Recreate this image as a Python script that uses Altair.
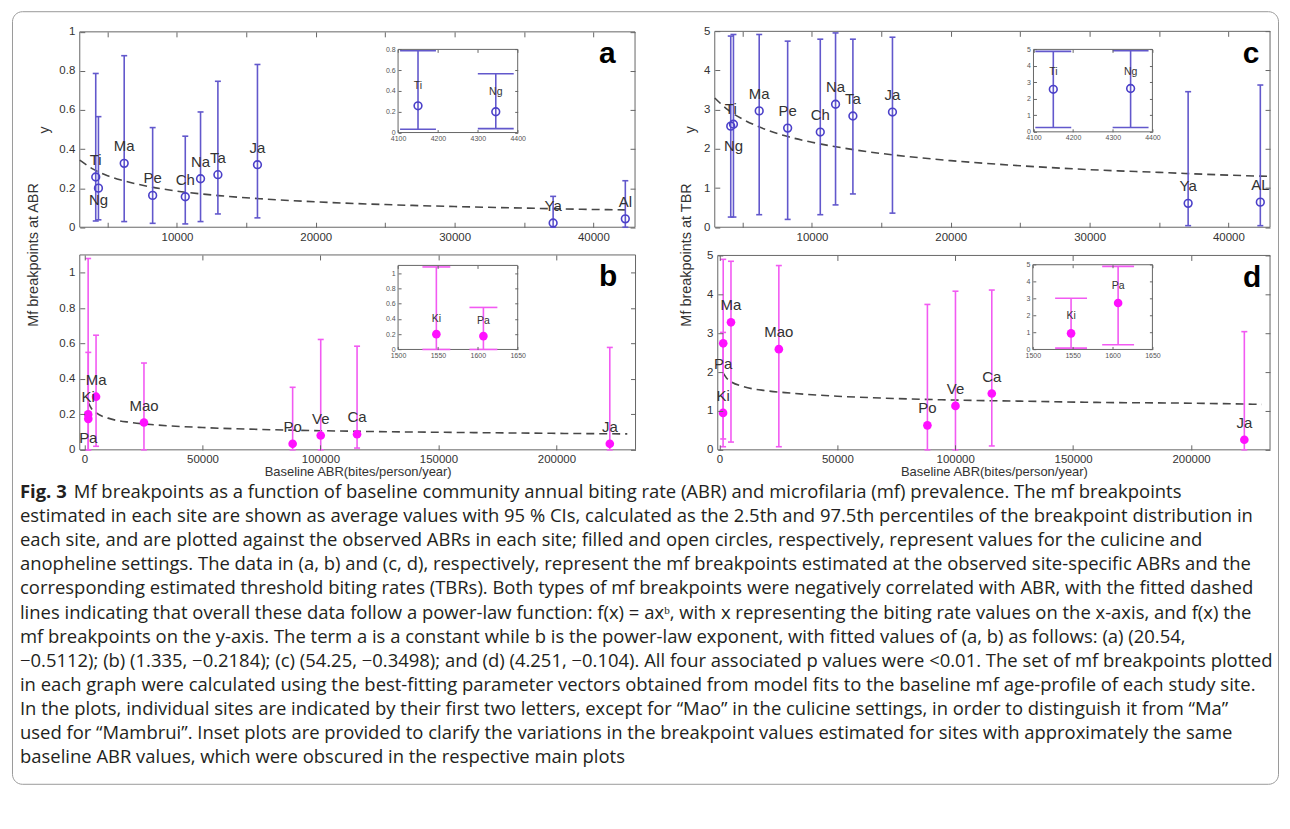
import altair as alt
import pandas as pd

# ---------------- data ----------------
# anopheline sites (open circles): panel a = mf breakpoint at ABR, panel c = at TBR
ANO_SITES = ["Ti", "Ng", "Ma", "Pe", "Ch", "Na", "Ta", "Ja", "Ya", "Al"]
C_SITES = ["Ti", "Ng", "Ma", "Pe", "Ch", "Na", "Ta", "Ja", "Ya", "AL"]
ANO_ABR = [4150, 4345, 6200, 8250, 10600, 11700, 12950, 15800, 37100, 42300]
A_MEAN = [0.257, 0.200, 0.327, 0.163, 0.156, 0.248, 0.269, 0.320, 0.022, 0.043]
A_LOW = [0.032, 0.038, 0.029, 0.020, 0.017, 0.029, 0.068, 0.048, 0.000, 0.000]
A_HIGH = [0.787, 0.566, 0.878, 0.510, 0.466, 0.590, 0.747, 0.833, 0.158, 0.238]
C_MEAN = [2.58, 2.63, 2.97, 2.53, 2.43, 3.14, 2.84, 2.94, 0.61, 0.64]
C_LOW = [0.26, 0.26, 0.32, 0.20, 0.32, 0.57, 0.85, 0.36, 0.04, 0.04]
C_HIGH = [4.88, 4.92, 4.92, 4.75, 4.80, 4.96, 4.80, 4.85, 3.46, 3.63]

# culicine sites (filled circles): panel b = at ABR, panel d = at TBR
CUL_SITES = ["Ki", "Pa", "Ma", "Mao", "Po", "Ve", "Ca", "Ja"]
CUL_ABR = [1548, 1607, 4900, 25200, 88200, 100100, 115500, 222600]
B_MEAN = [0.200, 0.175, 0.300, 0.154, 0.034, 0.081, 0.088, 0.034]
B_LOW = [0.0, 0.0, 0.02, 0.0, 0.0, 0.0, 0.01, 0.0]
B_HIGH = [1.08, 0.55, 0.647, 0.49, 0.353, 0.623, 0.585, 0.578]
D_MEAN = [0.95, 2.74, 3.28, 2.59, 0.63, 1.13, 1.45, 0.26]
D_LOW = [0.08, 0.28, 0.20, 0.08, 0.0, 0.0, 0.10, 0.0]
D_HIGH = [3.02, 4.90, 4.85, 4.74, 3.74, 4.08, 4.11, 3.04]

# fitted power-law curves (dashed)
FIT_A_X = [3000, 4000, 5000, 6000, 8000, 10000, 13000, 16000, 20000, 25000, 30000, 35000, 40000, 42300]
FIT_A_Y = [0.343, 0.296, 0.264, 0.241, 0.208, 0.185, 0.162, 0.146, 0.130, 0.116, 0.106, 0.098, 0.091, 0.089]
FIT_B_X = [1550, 3000, 5000, 10000, 20000, 30000, 50000, 75000, 100000, 130000, 160000, 200000, 230000]
FIT_B_Y = [0.268, 0.232, 0.208, 0.179, 0.154, 0.141, 0.126, 0.115, 0.108, 0.102, 0.098, 0.093, 0.090]
FIT_C_X = [3000, 4000, 5000, 6000, 8000, 10000, 13000, 16000, 20000, 25000, 30000, 35000, 40000, 42800]
FIT_C_Y = [3.30, 2.98, 2.76, 2.59, 2.34, 2.17, 1.98, 1.84, 1.70, 1.57, 1.47, 1.40, 1.33, 1.30]
FIT_D_X = [1550, 3000, 5000, 10000, 20000, 30000, 50000, 75000, 100000, 130000, 160000, 200000, 230000]
FIT_D_Y = [1.98, 1.85, 1.75, 1.63, 1.52, 1.46, 1.38, 1.32, 1.28, 1.25, 1.22, 1.20, 1.17]

# tick values
X_TICKS_ANO = [5000, 10000, 15000, 20000, 25000, 30000, 35000, 40000]
X_LABELS_ANO = [10000, 20000, 30000, 40000]
X_TICKS_CUL = [0, 50000, 100000, 150000, 200000]
Y_TICKS_AB = [0, 0.2, 0.4, 0.6, 0.8, 1]
Y_TICKS_CD = [0, 1, 2, 3, 4, 5]
INSET_X_ANO = [4100, 4200, 4300, 4400]
INSET_X_CUL = [1500, 1550, 1600, 1650]
INSET_Y_A = [0, 0.2, 0.4, 0.6, 0.8]
INSET_Y_B = [0, 0.2, 0.4, 0.6, 0.8, 1]

CAPTION_BOLD = "Fig. 3"
CAPTION_LINES = [
    "Mf breakpoints as a function of baseline community annual biting rate (ABR) and microfilaria (mf) prevalence. The mf breakpoints",
    "estimated in each site are shown as average values with 95 % CIs, calculated as the 2.5th and 97.5th percentiles of the breakpoint distribution in",
    "each site, and are plotted against the observed ABRs in each site; filled and open circles, respectively, represent values for the culicine and",
    "anopheline settings. The data in (a, b) and (c, d), respectively, represent the mf breakpoints estimated at the observed site-specific ABRs and the",
    "corresponding estimated threshold biting rates (TBRs). Both types of mf breakpoints were negatively correlated with ABR, with the fitted dashed",
    "lines indicating that overall these data follow a power-law function: f(x) = axᵇ, with x representing the biting rate values on the x-axis, and f(x) the",
    "mf breakpoints on the y-axis. The term a is a constant while b is the power-law exponent, with fitted values of (a, b) as follows: (a) (20.54,",
    "−0.5112); (b) (1.335, −0.2184); (c) (54.25, −0.3498); and (d) (4.251, −0.104). All four associated p values were <0.01. The set of mf breakpoints plotted",
    "in each graph were calculated using the best-fitting parameter vectors obtained from model fits to the baseline mf age-profile of each study site.",
    "In the plots, individual sites are indicated by their first two letters, except for “Mao” in the culicine settings, in order to distinguish it from “Ma”",
    "used for “Mambrui”. Inset plots are provided to clarify the variations in the breakpoint values estimated for sites with approximately the same",
    "baseline ABR values, which were obscured in the respective main plots",
]

# ---------------- layout (pixels inside the bordered view) ----------------
W, H = 1270, 775
FONT = "Liberation Sans"
CAP_FONT = "Open Sans"
CAP_SIZE = 18.5
ANO_COLOR = "#4b40c9"
ANO_BAR = "#6258cc"
CUL_COLOR = "#ff10ff"
CUL_BAR = "#f25af2"
FRAME = "#666666"

PANELS = {
    "a": dict(xdom=[3000, 43000], xr=[68, 625], ydom=[0, 1], yr=[216.7, 20.7]),
    "b": dict(xdom=[-2000, 233500], xr=[68, 625.5], ydom=[0, 1.1], yr=[440, 244.5]),
    "c": dict(xdom=[3000, 43000], xr=[705, 1262], ydom=[0, 5], yr=[216.7, 20.2]),
    "d": dict(xdom=[-700, 233500], xr=[708, 1262], ydom=[0, 5], yr=[440, 245]),
}
INSETS = {
    "a": dict(xdom=[4100, 4400], xr=[387.3, 507.3], ydom=[0, 0.8], yr=[121.7, 38.3]),
    "b": dict(xdom=[1500, 1650], xr=[387.3, 507.3], ydom=[0, 1.1], yr=[339.3, 255]),
    "c": dict(xdom=[4100, 4400], xr=[1024.7, 1144], ydom=[0, 5], yr=[121, 38.3]),
    "d": dict(xdom=[1500, 1650], xr=[1024, 1144], ydom=[0, 5], yr=[339.3, 254.3]),
}
LETTER_POS = {"a": (41010, 0.886), "b": (221850, 0.974), "c": (41630, 4.43), "d": (225900, 4.41)}
LABEL_ABOVE = 17
LABEL_BELOW = {"a": {"Ng": 12}, "b": {"Pa": 19}, "c": {"Ng": 22}, "d": {"Pa": 21}}
INSET_LABEL_ABOVE = {"a": 20, "b": 15, "c": 17, "d": 17}
CAP_TOP, CAP_STEP = 482.5, 24.15


def scale(dom, rng):
    return alt.Scale(domain=dom, range=rng, nice=False, zero=False)


def frame_layers(p, xlab, xtick, ylab, ytick, lab_size, tick_len, lab_pad,
                 xtitle=None, ytitle=None, ytitle_x=0, ytitle_y=0, ytitle_size=14,
                 xtitle_y=0, lab_color="#333333"):
    df = pd.DataFrame({"x0": [p["xdom"][0]], "x1": [p["xdom"][1]],
                       "y0": [p["ydom"][0]], "y1": [p["ydom"][1]]})
    xl, xr = p["xr"]
    yb, yt = p["yr"]
    xs = scale(p["xdom"], p["xr"])
    ys = scale(p["ydom"], p["yr"])
    common = dict(grid=False, zindex=1, labelFont=FONT, labelFontSize=lab_size,
                  labelColor=lab_color, ticks=False, domain=False,
                  labelFlush=False, labelOverlap=False)
    xax = dict(orient="bottom", offset=yb - H, values=xlab, format="d",
               labelPadding=max(lab_pad - 1, 2), **common)
    if xtitle:
        xax.update(title=xtitle, titleFont=FONT, titleFontSize=13, titleFontWeight="normal",
                   titleColor="#333333", titleX=(xl + xr) / 2, titleY=xtitle_y,
                   titleBaseline="middle", titleAlign="center")
    else:
        xax["title"] = None
    yax = dict(orient="left", offset=-xl, values=ylab, format="~g", labelPadding=lab_pad, **common)
    if ytitle:
        yax.update(title=ytitle, titleFont=FONT, titleFontSize=ytitle_size, titleFontWeight="normal",
                   titleColor="#333333", titleX=ytitle_x, titleY=ytitle_y,
                   titleBaseline="middle", titleAlign="center", titleAngle=270)
    else:
        yax["title"] = None
    l1 = alt.Chart(df).mark_rect(fillOpacity=0, stroke=FRAME, strokeWidth=1).encode(
        x=alt.X("x0:Q", scale=xs, axis=alt.Axis(**xax)), x2="x1:Q",
        y=alt.Y("y0:Q", scale=ys, axis=alt.Axis(**yax)), y2="y1:Q")
    tk = dict(labels=False, domain=False, ticks=True, tickSize=tick_len, tickColor=FRAME,
              tickWidth=1, title=None, grid=False, zindex=1)
    l2 = alt.Chart(df).mark_rect(opacity=0).encode(
        x=alt.X("x0:Q", scale=xs, axis=alt.Axis(orient="top", offset=-yb, values=xtick, **tk)), x2="x1:Q",
        y=alt.Y("y0:Q", scale=ys, axis=alt.Axis(orient="right", offset=xl - W, values=ytick, **tk)), y2="y1:Q")
    l3 = alt.Chart(df).mark_rect(opacity=0).encode(
        x=alt.X("x0:Q", scale=xs, axis=alt.Axis(orient="bottom", offset=yt - H, values=xtick, **tk)), x2="x1:Q",
        y=alt.Y("y0:Q", scale=ys, axis=alt.Axis(orient="left", offset=-xr, values=ytick, **tk)), y2="y1:Q")
    return [l1, l2, l3]


def data_layers(p, sites, abr, mean, lo, hi, filled, color, bar_color, cap_size,
                pt_size, label_size, above_dy, below=None, include=None):
    df = pd.DataFrame({"site": sites, "abr": abr, "mean": mean, "lo": lo, "hi": hi})
    if include:
        df = df[df["site"].isin(include)]
    below = below or {}
    xs = scale(p["xdom"], p["xr"])
    ys = scale(p["ydom"], p["yr"])
    X = alt.X("abr:Q", scale=xs, axis=None)

    def Y(f):
        return alt.Y(f + ":Q", scale=ys, axis=None)

    base = alt.Chart(df)
    out = [
        base.mark_rule(color=bar_color, strokeWidth=1.6).encode(x=X, y=Y("lo"), y2="hi:Q"),
        base.mark_tick(orient="horizontal", size=cap_size, thickness=1.6, color=bar_color,
                       opacity=1).encode(x=X, y=Y("lo")),
        base.mark_tick(orient="horizontal", size=cap_size, thickness=1.6, color=bar_color,
                       opacity=1).encode(x=X, y=Y("hi")),
        base.mark_point(shape="circle", filled=filled, size=pt_size, color=color,
                        strokeWidth=1.6, opacity=1).encode(x=X, y=Y("mean")),
    ]
    tx = dict(font=FONT, fontSize=label_size, color="#333333", align="center", baseline="middle")
    above = df[~df["site"].isin(list(below.keys()))]
    out.append(alt.Chart(above).mark_text(dy=-above_dy, **tx).encode(x=X, y=Y("mean"), text="site:N"))
    for s, d in below.items():
        sub = df[df["site"] == s]
        if len(sub):
            out.append(alt.Chart(sub).mark_text(dy=d, **tx).encode(x=X, y=Y("mean"), text="site:N"))
    return out


def fit_layer(p, fx, fy):
    df = pd.DataFrame({"x": fx, "y": fy})
    return alt.Chart(df).mark_line(strokeDash=[8, 5], color="#474747", strokeWidth=1.6,
                                   interpolate="monotone").encode(
        x=alt.X("x:Q", scale=scale(p["xdom"], p["xr"]), axis=None),
        y=alt.Y("y:Q", scale=scale(p["ydom"], p["yr"]), axis=None))


def letter_layer(key):
    p = PANELS[key]
    lx, ly = LETTER_POS[key]
    df = pd.DataFrame({"t": [key], "x": [lx], "y": [ly]})
    return alt.Chart(df).mark_text(font=FONT, fontSize=30, fontWeight="bold", color="#000000",
                                   align="center", baseline="middle").encode(
        x=alt.X("x:Q", scale=scale(p["xdom"], p["xr"]), axis=None),
        y=alt.Y("y:Q", scale=scale(p["ydom"], p["yr"]), axis=None), text="t:N")


layers = []
# ---- panel a
pa = PANELS["a"]
layers += frame_layers(pa, X_LABELS_ANO, X_TICKS_ANO, Y_TICKS_AB, Y_TICKS_AB, 11.5, 5, 5,
                       ytitle="y", ytitle_x=-35, ytitle_y=(pa["yr"][0] + pa["yr"][1]) / 2, ytitle_size=14)
layers.append(fit_layer(pa, FIT_A_X, FIT_A_Y))
layers += data_layers(pa, ANO_SITES, ANO_ABR, A_MEAN, A_LOW, A_HIGH, False, ANO_COLOR, ANO_BAR,
                      6, 60, 15, LABEL_ABOVE, LABEL_BELOW["a"])
layers.append(letter_layer("a"))
# ---- panel b
pb = PANELS["b"]
layers += frame_layers(pb, X_TICKS_CUL, X_TICKS_CUL, Y_TICKS_AB, Y_TICKS_AB, 11.5, 5, 5,
                       xtitle="Baseline ABR(bites/person/year)", xtitle_y=22,
                       ytitle="Mf breakpoints at ABR", ytitle_x=-46, ytitle_y=244, ytitle_size=14.5)
layers.append(fit_layer(pb, FIT_B_X, FIT_B_Y))
layers += data_layers(pb, CUL_SITES, CUL_ABR, B_MEAN, B_LOW, B_HIGH, True, CUL_COLOR, CUL_BAR,
                      6, 75, 15, LABEL_ABOVE, LABEL_BELOW["b"])
layers.append(letter_layer("b"))
# ---- panel c
pc = PANELS["c"]
layers += frame_layers(pc, X_LABELS_ANO, X_TICKS_ANO, Y_TICKS_CD, Y_TICKS_CD, 11.5, 5, 5,
                       ytitle="y", ytitle_x=-24, ytitle_y=(pc["yr"][0] + pc["yr"][1]) / 2, ytitle_size=14)
layers.append(fit_layer(pc, FIT_C_X, FIT_C_Y))
layers += data_layers(pc, C_SITES, ANO_ABR, C_MEAN, C_LOW, C_HIGH, False, ANO_COLOR, ANO_BAR,
                      6, 60, 15, LABEL_ABOVE, LABEL_BELOW["c"])
layers.append(letter_layer("c"))
# ---- panel d
pd_ = PANELS["d"]
layers += frame_layers(pd_, X_TICKS_CUL, X_TICKS_CUL, Y_TICKS_CD, Y_TICKS_CD, 11.5, 5, 5,
                       xtitle="Baseline ABR(bites/person/year)", xtitle_y=22,
                       ytitle="Mf breakpoints at TBR", ytitle_x=-31, ytitle_y=244, ytitle_size=14.5)
layers.append(fit_layer(pd_, FIT_D_X, FIT_D_Y))
layers += data_layers(pd_, CUL_SITES, CUL_ABR, D_MEAN, D_LOW, D_HIGH, True, CUL_COLOR, CUL_BAR,
                      6, 75, 15, LABEL_ABOVE, LABEL_BELOW["d"])
layers.append(letter_layer("d"))

# ---- insets
inset_specs = [
    ("a", INSET_X_ANO, INSET_Y_A, ANO_SITES, ANO_ABR, A_MEAN, A_LOW, A_HIGH, False, ANO_COLOR, ANO_BAR, ["Ti", "Ng"], 36),
    ("b", INSET_X_CUL, INSET_Y_B, CUL_SITES, CUL_ABR, B_MEAN, B_LOW, B_HIGH, True, CUL_COLOR, CUL_BAR, ["Ki", "Pa"], 28),
    ("c", INSET_X_ANO, Y_TICKS_CD, C_SITES, ANO_ABR, C_MEAN, C_LOW, C_HIGH, False, ANO_COLOR, ANO_BAR, ["Ti", "Ng"], 36),
    ("d", INSET_X_CUL, Y_TICKS_CD, CUL_SITES, CUL_ABR, D_MEAN, D_LOW, D_HIGH, True, CUL_COLOR, CUL_BAR, ["Ki", "Pa"], 32),
]
for key, xt, yt, sites, abr, m, lo, hi, filled, col, bcol, inc, cap in inset_specs:
    ip = INSETS[key]
    layers += frame_layers(ip, xt, xt, yt, yt, 7, 3, 3, lab_color="#555555")
    layers += data_layers(ip, sites, abr, m, lo, hi, filled, col, bcol, cap,
                          60 if not filled else 75, 10.5, INSET_LABEL_ABOVE[key], None, inc)

# ---- caption
n_lines = len(CAPTION_LINES)
cap_df = pd.DataFrame({"t": CAPTION_LINES, "i": list(range(n_lines))})
cap_y = alt.Y("i:Q", scale=scale([0, n_lines - 1], [CAP_TOP, CAP_TOP + CAP_STEP * (n_lines - 1)]), axis=None)
cap_style = dict(font=CAP_FONT, fontSize=CAP_SIZE, color="#231f20", align="left", baseline="middle")
layers.append(alt.Chart(cap_df[cap_df["i"] > 0]).mark_text(**cap_style).encode(
    x=alt.value(8), y=cap_y, text="t:N"))
layers.append(alt.Chart(cap_df[cap_df["i"] == 0]).mark_text(**cap_style).encode(
    x=alt.value(62), y=cap_y, text="t:N"))
bold_df = pd.DataFrame({"t": [CAPTION_BOLD], "i": [0]})
layers.append(alt.Chart(bold_df).mark_text(fontWeight="bold", **cap_style).encode(
    x=alt.value(8), y=cap_y, text="t:N"))

chart = alt.layer(*layers).resolve_scale(x="independent", y="independent").properties(
    width=W, height=H,
    padding={"left": 4, "top": 2, "right": 4, "bottom": 4},
    autosize=alt.AutoSizeParams(type="none"),
).configure_view(stroke="#9a9a9a", strokeWidth=1, cornerRadius=10)

chart.save("out.html", embed_options={"renderer": "svg", "actions": False})
